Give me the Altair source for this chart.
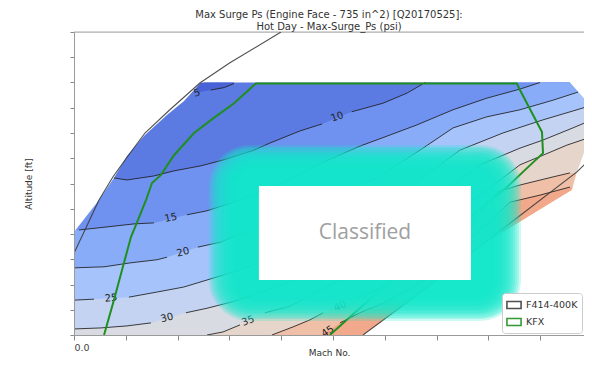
import altair as alt
import pandas as pd

# ---------------- text ----------------
TITLE_LINES = ["Max Surge Ps (Engine Face - 735 in^2) [Q20170525]:", "Hot Day - Max-Surge_Ps (psi)"]
X_TITLE = "Mach No."
Y_TITLE = "Altitude [ft]"
BOX_TEXT = "Classified"

# ---------------- axes ----------------
X_MAX = 0.9846
X_TICKS = [0.0, 0.1, 0.2, 0.3, 0.4, 0.5, 0.6, 0.7, 0.8, 0.9]
Y_TICKS = [0, 5000, 10000, 15000, 20000, 25000, 30000, 35000, 40000, 45000, 50000, 55000, 60000]

# ---------------- envelope of the filled map ----------------
ENVELOPE_TOP = 50000
MASK_TOP = 51000
LEFT_EDGE_MACH = [0.0, 0.048, 0.077, 0.102, 0.135, 0.18, 0.212, 0.245, 0.25]
LEFT_EDGE_ALT = [20400, 26700, 31100, 35400, 39400, 43600, 46300, 50000, 50000]
LOWER_RIGHT_EDGE_MACH = [0.558, 0.654, 0.797, 0.961, 0.971, 0.9865, 0.996, 1.0]
LOWER_RIGHT_EDGE_ALT = [0, 7100, 18400, 28700, 32300, 36600, 41600, 45100]
TOP_RIGHT_EDGE_MACH = [0.9575, 1.0]
TOP_RIGHT_EDGE_ALT = [50000, 45100]

# ---------------- contour lines (psi), segments split at labels ----------------
C5 = [[(0.264, 48500), (0.290, 49000), (0.309, 49800)]]
C10 = [
    [(0.0772, 31100), (0.1023, 30700), (0.1544, 31500), (0.193, 32500), (0.245, 33500), (0.2896, 34700),
     (0.3475, 36600), (0.378, 38000), (0.436, 40400), (0.479, 41800)],
    [(0.536, 44200), (0.5965, 45900), (0.643, 47900), (0.678, 50000)],
]
C15 = [
    [(0.0097, 20800), (0.0637, 21400), (0.1158, 22000), (0.1544, 22200)],
    [(0.218, 23800), (0.2568, 24600), (0.303, 26100), (0.359, 28300), (0.4228, 31100), (0.488, 34500),
     (0.552, 37400), (0.610, 39600), (0.662, 41600), (0.7317, 44600), (0.797, 46900), (0.861, 48700),
     (0.8996, 50000)],
]
C20 = [
    [(0.0, 13300), (0.058, 13500), (0.110, 14300), (0.160, 14900), (0.1795, 15400)],
    [(0.239, 17400), (0.2838, 18400), (0.3147, 19800), (0.378, 22400), (0.475, 26400), (0.585, 31100),
     (0.668, 36600), (0.7317, 41000), (0.797, 43200), (0.861, 44600), (0.9247, 46500), (0.973, 48100)],
]
C25 = [
    [(0.0, 6900), (0.0386, 7100)],
    [(0.106, 7500), (0.160, 8500), (0.212, 9500), (0.270, 11300), (0.309, 12500), (0.3475, 13900),
     (0.436, 17400), (0.533, 22400), (0.629, 27500), (0.668, 30700), (0.745, 36600), (0.828, 40000),
     (0.9054, 42600), (0.971, 44600), (1.0, 45500)],
]
C30 = [
    [(0.0, 1200), (0.052, 1400), (0.1023, 1800), (0.1486, 2400)],
    [(0.216, 4400), (0.2568, 5300), (0.303, 6500), (0.3475, 7900), (0.436, 11300), (0.533, 15800),
     (0.629, 21200), (0.668, 25000), (0.784, 33700), (0.861, 37000), (0.9054, 38600), (0.963, 41000),
     (1.0, 42600)],
]
C35 = [
    [(0.2568, 0), (0.2876, 600), (0.3205, 2000)],
    [(0.3687, 4400), (0.417, 5700), (0.469, 8500), (0.552, 12900), (0.668, 19800), (0.784, 27700),
     (0.861, 33700), (0.9054, 35600), (0.9517, 37600), (0.992, 39000)],
]
C40 = [
    [(0.382, 0), (0.4228, 1600), (0.4556, 3000), (0.481, 4400)],
    [(0.546, 7300), (0.591, 9300), (0.668, 14500), (0.7645, 21800), (0.8166, 28300), (0.861, 29700),
     (0.9247, 31300), (0.9575, 32100)],
]
C45 = [
    [(0.478, 0)],
    [(0.5135, 2400), (0.552, 4400), (0.5965, 6300), (0.654, 9300), (0.745, 17200), (0.8417, 26300),
     (0.8996, 27700), (0.9575, 29300)],
]
CONTOURS = {5: C5, 10: C10, 15: C15, 20: C20, 25: C25, 30: C30, 35: C35, 40: C40, 45: C45}

# band colours: key = lower level of the band
BELOW_5_COLOR = "#4963d6"
BAND_COLORS = {5: "#5b7be2", 10: "#6f92f0", 15: "#89acf9", 20: "#a6c4fb", 25: "#c3d3f1",
               30: "#d9dbe2", 35: "#e6d5cb", 40: "#efbfa7", 45: "#f2a88a"}

# contour labels
LABEL_TEXT = ["5", "10", "15", "20", "25", "30", "35", "40", "45"]
LABEL_MACH = [0.2375, 0.508, 0.187, 0.2104, 0.0714, 0.1795, 0.336, 0.5135, 0.490]
LABEL_ALT = [47900, 43200, 23200, 16400, 7300, 3400, 2800, 5700, 700]
LABEL_ANGLE = [345, 340, 348, 346, 355, 346, 338, 335, 325]

# ---------------- envelopes ----------------
F414_LEFT_MACH = [0.0, 0.0193, 0.048, 0.075, 0.1023, 0.137, 0.185, 0.243, 0.301, 0.3996]
F414_LEFT_ALT = [16200, 20400, 26700, 31300, 35200, 40000, 44600, 49900, 53900, 60000]
F414_RIGHT_MACH = [0.558, 0.654, 0.797, 0.971, 1.0]
F414_RIGHT_ALT = [0, 7300, 18600, 32300, 35200]
KFX_MACH = [0.058, 0.077, 0.0965, 0.110, 0.1197, 0.139, 0.1506, 0.168, 0.193, 0.2317, 0.270, 0.309,
            0.351, 0.855, 0.861, 0.884, 0.9035, 0.9054, 0.8668, 0.836, 0.8166, 0.591, 0.494]
KFX_ALT = [0, 6900, 14300, 19400, 21800, 26700, 30100, 31700, 35600, 40000, 43000, 45900,
           49800, 49800, 48500, 44000, 40200, 36000, 32300, 29300, 27700, 8900, 0]
LEGEND_NAMES = ["F414-400K", "KFX"]
LEGEND_COLORS = ["#3c3c3c", "#1f8f1f"]

# ---------------- classified box ----------------
BOX_MACH = [0.357, 0.7664]
BOX_ALT = [10900, 29500]
GLOW_COLOR = "#12e8ca"
GLOW_STEPS = [50, 48, 46, 44, 42, 40, 38, 36, 34, 32, 30, 28, 26, 24, 22]

FONT = "DejaVu Sans"
xs = alt.Scale(domain=[0.0, X_MAX], nice=False, zero=False)
ys = alt.Scale(domain=[0, 60000], nice=False, zero=False)
x_axis = alt.Axis(values=X_TICKS, labelExpr="datum.value == 0 ? '0.0' : ''", title=X_TITLE, grid=False,
                  tickSize=5, tickColor="#8a8a8a", domainColor="#9a9a9a", labelFont=FONT, labelFontSize=9.5,
                  labelColor="#444444", labelPadding=2, titleFont=FONT, titleFontSize=9,
                  titleFontWeight="normal", titleColor="#333333", titlePadding=-3, zindex=1)
y_axis = alt.Axis(values=Y_TICKS, labels=False, title=Y_TITLE, grid=False, tickSize=4, tickColor="#8a8a8a",
                  domainColor="#9a9a9a", titleFont=FONT, titleFontSize=9, titleFontWeight="normal",
                  titleColor="#333333", titlePadding=36, zindex=1)


def X(f="m"):
    return alt.X(f"{f}:Q", scale=xs, axis=x_axis)


def Y(f="a"):
    return alt.Y(f"{f}:Q", scale=ys, axis=y_axis)


def area_layer(pts, base, color):
    pts = sorted(pts)
    df = pd.DataFrame({"m": [p[0] for p in pts], "a": [p[1] for p in pts], "a2": [base] * len(pts)})
    return alt.Chart(df).mark_area(color=color, opacity=1, clip=True).encode(x=X(), y=Y(), y2="a2:Q")


layers = []

# base band
rect_df = pd.DataFrame({"x0": [0.0], "x1": [X_MAX], "y0": [0], "y1": [ENVELOPE_TOP]})
layers.append(alt.Chart(rect_df).mark_rect(color=BAND_COLORS[5]).encode(
    x=X("x0"), x2="x1:Q", y=Y("y1"), y2="y0:Q"))

# below-5 pocket
layers.append(area_layer([(0.2375, 48000)] + C5[0], ENVELOPE_TOP, BELOW_5_COLOR))

# bands for each level >= 10
for lev in [10, 15, 20, 25, 30, 35, 40, 45]:
    pts = [p for seg in CONTOURS[lev] for p in seg]
    if pts[0][0] > 0 and pts[0][1] > 0:
        pts = [(0.0, pts[0][1])] + pts
    if pts[-1][0] < 1.0:
        pts = pts + [(1.0, pts[-1][1])]
    layers.append(area_layer(pts, 0, BAND_COLORS[lev]))

# white masks outside the envelope
layers.append(area_layer(list(zip(LEFT_EDGE_MACH, LEFT_EDGE_ALT)), MASK_TOP, "white"))
layers.append(area_layer(list(zip(LOWER_RIGHT_EDGE_MACH, LOWER_RIGHT_EDGE_ALT)), 0, "white"))
layers.append(area_layer(list(zip(TOP_RIGHT_EDGE_MACH, TOP_RIGHT_EDGE_ALT)), MASK_TOP, "white"))

# contour lines
rows = []
for lev, segs in CONTOURS.items():
    for s, seg in enumerate(segs):
        for i, (m, a) in enumerate(seg):
            rows.append({"seg": f"{lev}-{s}", "idx": i, "m": m, "a": a})
cdf = pd.DataFrame(rows)
layers.append(alt.Chart(cdf).mark_line(color="#1e1e1e", strokeWidth=1.0, opacity=0.85, clip=True).encode(
    x=X(), y=Y(), detail="seg:N", order=alt.Order("idx:Q")))

# contour labels
ldf = pd.DataFrame({"m": LABEL_MACH, "a": LABEL_ALT, "t": LABEL_TEXT, "ang": LABEL_ANGLE})
layers.append(alt.Chart(ldf).mark_text(font=FONT, fontSize=10, color="#222222", align="center",
                                       baseline="middle").encode(
    x=X(), y=Y(), text="t:N", angle=alt.Angle("ang:Q", scale=None)))

# top frame
layers.append(alt.Chart(pd.DataFrame({"a": [60000]})).mark_rule(color="#aaaaaa", strokeWidth=1).encode(y=Y()))

# envelopes
color_scale = alt.Scale(domain=LEGEND_NAMES, range=LEGEND_COLORS)
legend = alt.Legend(title=None, orient="bottom-right", offset=2, fillColor="white", strokeColor="#cccccc",
                    cornerRadius=3, padding=4, rowPadding=2, labelFont=FONT, labelFontSize=9.5,
                    labelColor="#333333", symbolType="M-1,-0.5L1,-0.5L1,0.5L-1,0.5Z", symbolSize=200,
                    symbolFillColor="white", symbolStrokeWidth=1.6, labelOffset=4)
frows = []
for i, (m, a) in enumerate(zip(F414_LEFT_MACH, F414_LEFT_ALT)):
    frows.append({"name": LEGEND_NAMES[0], "piece": "l", "idx": i, "m": m, "a": a})
for i, (m, a) in enumerate(zip(F414_RIGHT_MACH, F414_RIGHT_ALT)):
    frows.append({"name": LEGEND_NAMES[0], "piece": "r", "idx": i, "m": m, "a": a})
fdf = pd.DataFrame(frows)
layers.append(alt.Chart(fdf).mark_line(strokeWidth=1.1, opacity=0.9, clip=True).encode(
    x=X(), y=Y(), color=alt.Color("name:N", scale=color_scale, legend=legend),
    detail="piece:N", order=alt.Order("idx:Q")))
kdf = pd.DataFrame({"name": [LEGEND_NAMES[1]] * len(KFX_MACH), "idx": list(range(len(KFX_MACH))),
                    "m": KFX_MACH, "a": KFX_ALT})
layers.append(alt.Chart(kdf).mark_line(strokeWidth=2.0, clip=True).encode(
    x=X(), y=Y(), color=alt.Color("name:N", scale=color_scale, legend=legend), order=alt.Order("idx:Q")))

# glow + box
bdf = pd.DataFrame({"x0": [BOX_MACH[0]], "x1": [BOX_MACH[1]], "ylo": [BOX_ALT[0]], "yhi": [BOX_ALT[1]]})
for e in GLOW_STEPS:
    ey = round(e * 0.82)
    layers.append(alt.Chart(bdf).mark_rect(color=GLOW_COLOR, opacity=0.21, cornerRadius=ey,
                                           xOffset=-e, x2Offset=e, yOffset=-ey, y2Offset=ey).encode(
        x=X("x0"), x2="x1:Q", y=Y("yhi"), y2="ylo:Q"))
layers.append(alt.Chart(bdf).mark_rect(color="white").encode(x=X("x0"), x2="x1:Q", y=Y("yhi"), y2="ylo:Q"))
tdf = pd.DataFrame({"m": [(BOX_MACH[0] + BOX_MACH[1]) / 2], "a": [(BOX_ALT[0] + BOX_ALT[1]) / 2],
                    "t": [BOX_TEXT]})
layers.append(alt.Chart(tdf).mark_text(font="Open Sans", fontSize=21, color="#a0a0a0", align="center",
                                       baseline="middle").encode(x=X(), y=Y(), text="t:N"))

chart = alt.layer(*layers).properties(
    width=510, height=303,
    title=alt.TitleParams(TITLE_LINES, font=FONT, fontSize=10, fontWeight="normal", color="#333333",
                          anchor="middle", frame="group", offset=0, lineHeight=12),
    autosize=alt.AutoSizeParams(type="none"),
    padding={"left": 66, "top": 24, "right": 0, "bottom": 24},
).configure_view(stroke=None).configure(background="white")

chart.save("out.html", embed_options={"renderer": "svg", "actions": False})
